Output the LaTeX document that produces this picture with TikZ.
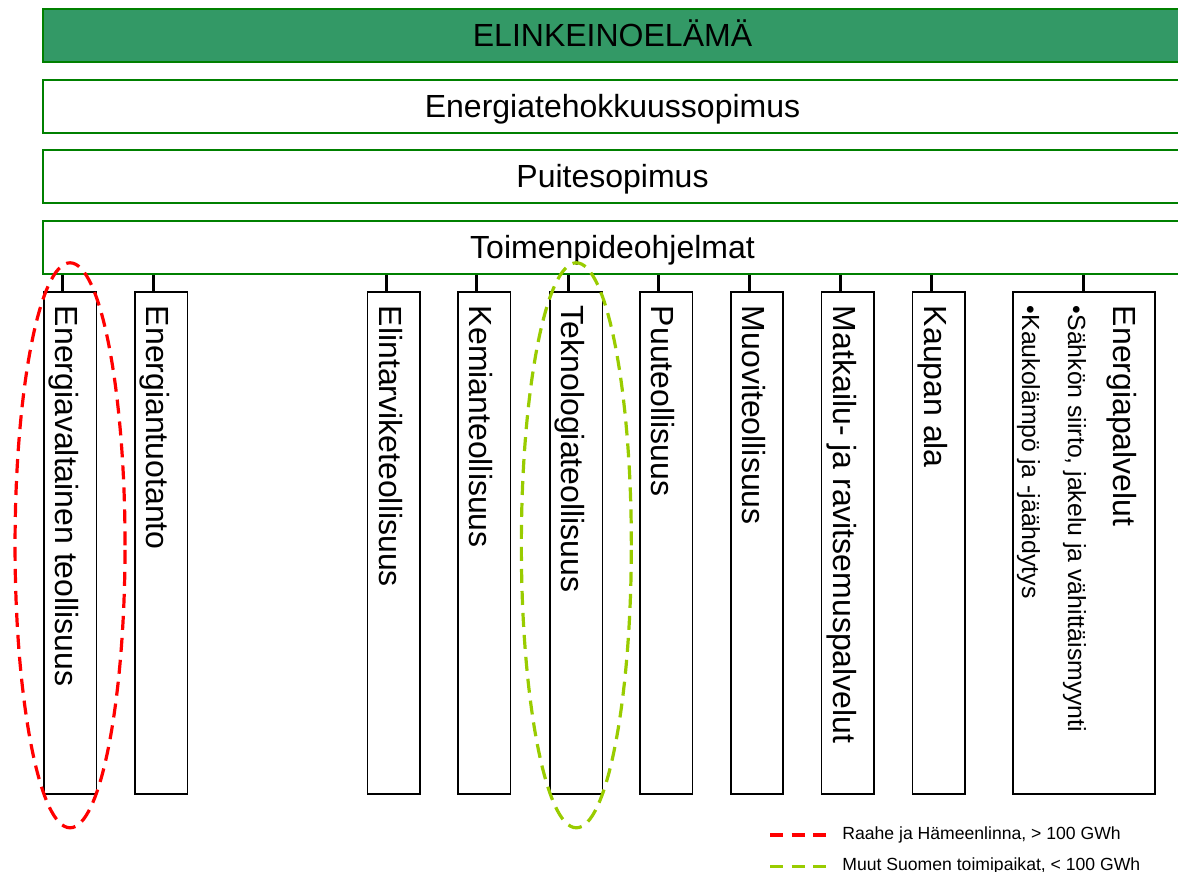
\documentclass[tikz,border=0pt]{standalone}
\usepackage{fontspec}
\setmainfont{Liberation Sans}

\definecolor{meri}{RGB}{51,153,102}
\definecolor{reuna}{RGB}{0,128,0}
\definecolor{kelta}{RGB}{153,204,0}

\tikzset{
  palkki/.style={draw=reuna, line width=0.9pt, minimum width=569.5pt, minimum height=26.5pt,
    inner sep=0pt, font=\fontsize{16}{19}\selectfont, text height=10.8pt, text depth=0pt},
  ala/.style={draw=black, line width=0.8pt, minimum width=26.25pt, minimum height=251pt,
    anchor=north west, inner sep=0pt},
  alateksti/.style={rotate=-90, anchor=base west, inner sep=0pt, font=\fontsize{16}{19}\selectfont},
  tikku/.style={line width=1.5pt},
  raahe/.style={red, line width=1.6pt, dash pattern=on 7pt off 4pt},
  muut/.style={kelta, line width=1.6pt, dash pattern=on 7pt off 4pt},
  selite/.style={anchor=base west, inner sep=0pt, font=\fontsize{8.8}{10.5}\selectfont}
}

\begin{document}
\begin{tikzpicture}[x=0.5pt,y=-0.5pt]
    \useasboundingbox (0,0) rectangle (1178,872);

    % Sopimuspalkit
    \node[palkki, fill=meri] (elinkeino) at (612.5,35.7) {ELINKEINOELÄMÄ};
    \node[palkki] (sopimus) at (612.5,106.4) {Energiatehokkuussopimus};
    \node[palkki] (puite) at (612.5,176.7) {Puitesopimus};
    \node[palkki] (toim) at (612.5,247.7) {Toimenpideohjelmat};

    % Toimialat
    \foreach \n/\x/\teksti in {1/43/Energiavaltainen teollisuus, 2/134/Energiantuotanto,
        3/366.7/Elintarviketeollisuus, 4/457.3/Kemianteollisuus, 5/549.3/Teknologiateollisuus,
        6/639.1/Puuteollisuus, 7/729.9/Muoviteollisuus, 8/820.7/Matkailu- ja ravitsemuspalvelut,
        9/911.5/Kaupan ala} {
        \node[ala] (b\n) at (\x,291) {};
        \node[alateksti] (t\n) at ([xshift=6.25pt,yshift=-7.25pt]b\n.north west) {\teksti};
        \coordinate (k\n) at ([xshift=9.75pt]b\n.north west);
        \draw[tikku] (k\n) -- (k\n |- toim.south);
    }

    % Energiapalvelut
    \node[ala, minimum width=71pt] (b10) at (1012,291) {};
    \node[alateksti] (t10) at ([xshift=50.5pt,yshift=-7.25pt]b10.north west) {Energiapalvelut};
    \node[alateksti, font=\fontsize{12.4}{14}\selectfont] (t11)
        at ([xshift=28pt,yshift=-7.25pt]b10.north west) {•Sähkön siirto, jakelu ja vähittäismyynti};
    \node[alateksti, font=\fontsize{12.4}{14}\selectfont] (t12)
        at ([xshift=5pt,yshift=-7.25pt]b10.north west) {•Kaukolämpö ja -jäähdytys};
    \draw[tikku] (b10.north) -- (b10.north |- toim.south);

    % Rajaukset
    \draw[raahe] ([yshift=-1.25pt]b1.center) ellipse [x radius=27.5pt, y radius=141.25pt];
    \draw[muut] ([yshift=-1.25pt]b5.center) ellipse [x radius=27.5pt, y radius=141.25pt];

    % Selite
    \coordinate (r1) at (770,835);
    \coordinate (r2) at (826,835);
    \coordinate (m1) at (770,866.7);
    \coordinate (m2) at (826,866.7);
    \draw[raahe, dash pattern=on 6.5pt off 4.25pt] (r1) -- (r2);
    \draw[muut, dash pattern=on 6.5pt off 4.25pt] (m1) -- (m2);
    \node[selite] (s1) at (842,839.3) {Raahe ja Hämeenlinna, > 100 GWh};
    \node[selite] (s2) at (842,870.3) {Muut Suomen toimipaikat, < 100 GWh};
\end{tikzpicture}
\end{document}
